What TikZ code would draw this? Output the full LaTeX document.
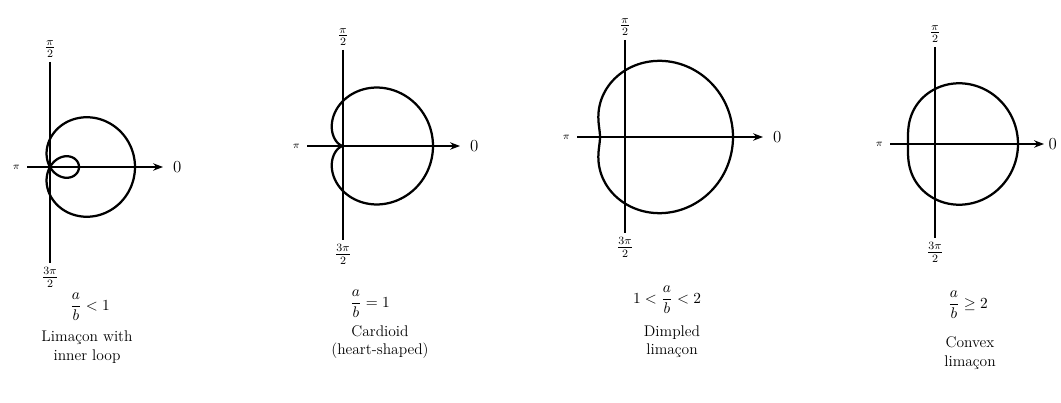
\documentclass[tikz,border=0pt]{standalone}
\usepackage{amsmath}
\usepackage{amssymb}
\usetikzlibrary{
  arrows.meta,  % 箭头样式
  positioning   % 节点相对定位
}

\begin{document}
\begin{tikzpicture}[>=Stealth, x=0.025cm, y=0.025cm,
  axisline/.style={line width=0.9pt},
  curveline/.style={line width=1.6pt},
  anglabel/.style={font=\large, inner sep=1pt},
  pilabel/.style={font=\scriptsize, inner sep=1pt},
  zerolabel/.style={font=\large, inner sep=1pt},
  captext/.style={align=center, font=\fontsize{11}{13}\selectfont}]
  \useasboundingbox (0,0) rectangle (1061,402);

  % 图1：带内环的蚶线 r = a + b cos(theta), a/b < 1
  \begin{scope}[shift={(50,235)}]
    \coordinate (t1) at (0,105);
    \coordinate (b1) at (0,-96);
    \coordinate (l1) at (-23,0);
    \coordinate (r1) at (113,0);
    \draw[axisline] (t1) -- (b1);
    \draw[axisline, ->] (l1) -- (r1);
    \draw[curveline] plot[domain=0:360, samples=181, smooth] (\x:{28+57*cos(\x)});
    \node[anglabel, above=2pt of t1] (u1) {$\frac{\pi}{2}$};
    \node[anglabel, below=2pt of b1] (d1) {$\frac{3\pi}{2}$};
    \node[pilabel, left=4pt of l1] (w1) {$\pi$};
    \node[zerolabel, right=6pt of r1] (e1) {0};
  \end{scope}
  \node[captext] (f1) at (90,95) {$\dfrac{a}{b} < 1$};
  \node[captext] (n1) at (87,55) {Limaçon with\\inner loop};

  % 图2：心形线 a/b = 1
  \begin{scope}[shift={(343,256)}]
    \coordinate (t2) at (0,96);
    \coordinate (b2) at (0,-94);
    \coordinate (l2) at (-36,0);
    \coordinate (r2) at (117,0);
    \draw[axisline] (t2) -- (b2);
    \draw[axisline, ->] (l2) -- (r2);
    \draw[curveline] plot[domain=0:360, samples=181, smooth] (\x:{45+45*cos(\x)});
    \node[anglabel, above=2pt of t2] (u2) {$\frac{\pi}{2}$};
    \node[anglabel, below=2pt of b2] (d2) {$\frac{3\pi}{2}$};
    \node[pilabel, left=4pt of l2] (w2) {$\pi$};
    \node[zerolabel, right=6pt of r2] (e2) {0};
  \end{scope}
  \node[captext] (f2) at (370,98) {$\dfrac{a}{b} = 1$};
  \node[captext] (n2) at (380,60) {Cardioid\\(heart-shaped)};

  % 图3：有凹陷的蚶线 1 < a/b < 2
  \begin{scope}[shift={(625,265)}]
    \coordinate (t3) at (0,97);
    \coordinate (b3) at (0,-96);
    \coordinate (l3) at (-48,0);
    \coordinate (r3) at (138,0);
    \draw[axisline] (t3) -- (b3);
    \draw[axisline, ->] (l3) -- (r3);
    \draw[curveline] plot[domain=0:360, samples=181, smooth] (\x:{66.5+41.5*cos(\x)});
    \node[anglabel, above=2pt of t3] (u3) {$\frac{\pi}{2}$};
    \node[anglabel, below=2pt of b3] (d3) {$\frac{3\pi}{2}$};
    \node[pilabel, left=4pt of l3] (w3) {$\pi$};
    \node[zerolabel, right=6pt of r3] (e3) {0};
  \end{scope}
  \node[captext] (f3) at (667,102) {$1 < \dfrac{a}{b} < 2$};
  \node[captext] (n3) at (672,60) {Dimpled\\limaçon};

  % 图4：凸蚶线 a/b >= 2
  \begin{scope}[shift={(935,258)}]
    \coordinate (t4) at (0,97);
    \coordinate (b4) at (0,-94);
    \coordinate (l4) at (-45,0);
    \coordinate (r4) at (109,0);
    \draw[axisline] (t4) -- (b4);
    \draw[axisline, ->] (l4) -- (r4);
    \draw[curveline] plot[domain=0:360, samples=181, smooth] (\x:{55+28*cos(\x)});
    \node[anglabel, above=2pt of t4] (u4) {$\frac{\pi}{2}$};
    \node[anglabel, below=2pt of b4] (d4) {$\frac{3\pi}{2}$};
    \node[pilabel, left=4pt of l4] (w4) {$\pi$};
    \node[zerolabel, right=2pt of r4] (e4) {0};
  \end{scope}
  \node[captext] (f4) at (968,97) {$\dfrac{a}{b} \geq 2$};
  \node[captext] (n4) at (970,49) {Convex\\limaçon};
\end{tikzpicture}
\end{document}
